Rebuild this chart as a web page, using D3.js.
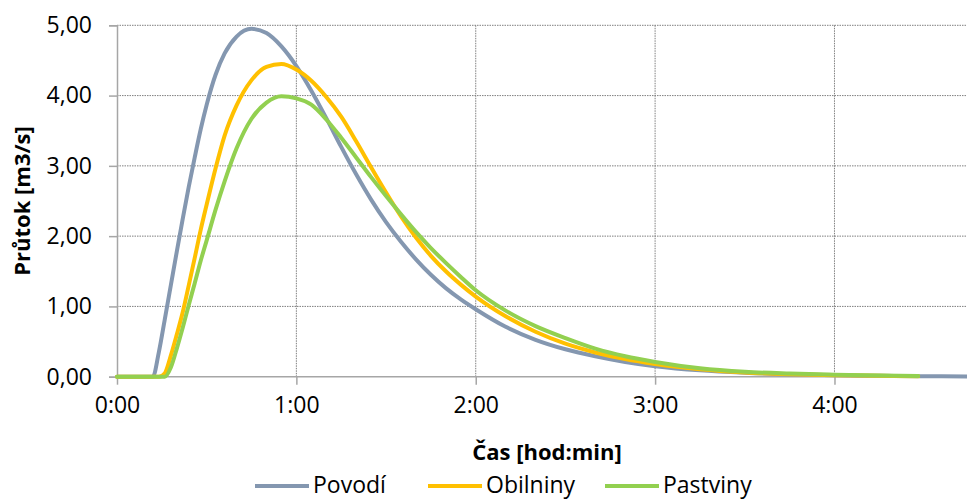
<!DOCTYPE html>
<html>
<head>
<meta charset="utf-8">
<script src="https://cdn.jsdelivr.net/npm/d3@7"></script>
<style>
  body { margin: 0; background: #fff; }
  svg { display: block; font-family: "Open Sans", sans-serif; }
</style>
</head>
<body>
<div id="chart"></div>
<script>
const width = 967
const height = 499

const gridColor = "#7f7f7f"
const axisColor = "#a6a6a6"
const textColor = "#000000"

// time in minutes
const times = [0, 10, 12, 14, 16, 18, 20, 22, 24, 26, 28, 30, 33, 36, 40, 45, 50, 55, 60, 65, 70, 75, 80, 85, 90, 95, 100, 105, 110, 115, 120, 130, 140, 150, 160, 170, 180, 195, 210, 225, 240, 255, 268, 285];

const povodi = [0, 0, 0, 0.35, 0.82, 1.3, 1.78, 2.25, 2.7, 3.12, 3.52, 3.87, 4.3, 4.6, 4.84, 4.95, 4.89, 4.7, 4.42, 4.07, 3.68, 3.27, 2.88, 2.52, 2.2, 1.92, 1.67, 1.45, 1.26, 1.1, 0.96, 0.71, 0.525, 0.39, 0.29, 0.21, 0.15, 0.09, 0.055, 0.033, 0.02, 0.012, 0.008, 0.004];
const obilniny = [0, 0, 0, 0, 0.05, 0.3, 0.6, 0.92, 1.3, 1.69, 2.09, 2.45, 2.97, 3.43, 3.86, 4.22, 4.41, 4.45, 4.37, 4.21, 3.98, 3.7, 3.35, 2.98, 2.62, 2.28, 1.98, 1.72, 1.5, 1.31, 1.14, 0.86, 0.64, 0.47, 0.345, 0.25, 0.18, 0.105, 0.06, 0.036, 0.022, 0.013, 0.008, null];
const pastviny = [0, 0, 0, 0, 0, 0.13, 0.4, 0.7, 1.02, 1.33, 1.65, 1.94, 2.38, 2.78, 3.25, 3.67, 3.9, 3.99, 3.96, 3.87, 3.66, 3.4, 3.12, 2.84, 2.57, 2.31, 2.06, 1.83, 1.62, 1.42, 1.23, 0.94, 0.72, 0.55, 0.4, 0.29, 0.21, 0.12, 0.07, 0.045, 0.028, 0.016, 0.01, null];

const seriesNames = ["Povodí", "Obilniny", "Pastviny"];
const seriesColors = ["#8497b0", "#ffc000", "#92d050"];
const seriesValues = [povodi, obilniny, pastviny];

const xTicks = [0, 60, 120, 180, 240];
const yTicks = [0, 1, 2, 3, 4, 5];

const svg = d3.select("#chart")
  .append("svg")
  .attr("width", width)
  .attr("height", height);

const x = d3.scaleLinear().domain([0, 285]).range([117, 969]);
const y = d3.scaleLinear().domain([0, 5]).range([376.7, 25.3]);

const fmtTime = m => `${Math.floor(m / 60)}:${String(m % 60).padStart(2, "0")}`;
const fmtNum = v => d3.format(".2f")(v).replace(".", ",");

// grid
svg.append("g")
  .selectAll("line")
  .data(yTicks.filter(d => d > 0))
  .join("line")
  .attr("x1", x(0)).attr("x2", width)
  .attr("y1", d => y(d)).attr("y2", d => y(d))
  .attr("stroke", gridColor)
  .attr("stroke-width", 1)
  .attr("stroke-dasharray", "1.5,1");

svg.append("g")
  .selectAll("line")
  .data(xTicks.filter(d => d > 0))
  .join("line")
  .attr("x1", d => x(d)).attr("x2", d => x(d))
  .attr("y1", y(5)).attr("y2", y(0))
  .attr("stroke", gridColor)
  .attr("stroke-width", 1)
  .attr("stroke-dasharray", "1.5,1");

// axes
const yAxis = svg.append("g")
  .attr("transform", `translate(${x(0)},0)`)
  .call(d3.axisLeft(y).tickValues(yTicks).tickFormat(fmtNum).tickSizeOuter(0).tickSize(8).tickPadding(17));

const xAxis = svg.append("g")
  .attr("transform", `translate(0,${y(0)})`)
  .call(d3.axisBottom(x).tickValues(xTicks).tickFormat(fmtTime).tickSizeOuter(0).tickSize(8).tickPadding(12));

[yAxis, xAxis].forEach(g => {
  g.select(".domain").attr("stroke", axisColor).attr("stroke-width", 1.5);
  g.selectAll(".tick line").attr("stroke", axisColor).attr("stroke-width", 1.5);
  g.selectAll(".tick text")
    .attr("fill", textColor)
    .style("font-family", "'Open Sans', sans-serif")
    .style("font-size", "23px");
});
xAxis.select(".domain").attr("d", `M${x(0)},0H${width}`);

// lines
const line = d3.line()
  .defined(d => d.v !== null)
  .x(d => x(d.t))
  .y(d => y(d.v))
  .curve(d3.curveMonotoneX);

seriesValues.forEach((vals, i) => {
  const pts = times.map((t, j) => ({ t, v: vals[j] }));
  svg.append("path")
    .datum(pts)
    .attr("d", line)
    .attr("fill", "none")
    .attr("stroke", seriesColors[i])
    .attr("stroke-width", 4)
    .attr("stroke-linejoin", "round")
    .attr("stroke-linecap", "round");
});

// axis titles
svg.append("text")
  .attr("x", 547)
  .attr("y", 460)
  .attr("text-anchor", "middle")
  .style("font-size", "22px")
  .style("font-weight", "bold")
  .text("Čas [hod:min]");

svg.append("text")
  .attr("transform", "translate(30,201) rotate(-90)")
  .attr("text-anchor", "middle")
  .style("font-size", "22px")
  .style("font-weight", "bold")
  .text("Průtok [m3/s]");

// legend
const legendX = [255, 428, 605];
const legend = svg.append("g");
seriesNames.forEach((name, i) => {
  const g = legend.append("g").attr("transform", `translate(${legendX[i]},486)`);
  g.append("line")
    .attr("x1", 0).attr("x2", 54)
    .attr("stroke", seriesColors[i])
    .attr("stroke-width", 4);
  g.append("text")
    .attr("x", 58)
    .attr("y", 7)
    .style("font-size", "23px")
    .text(name);
});
</script>
</body>
</html>
